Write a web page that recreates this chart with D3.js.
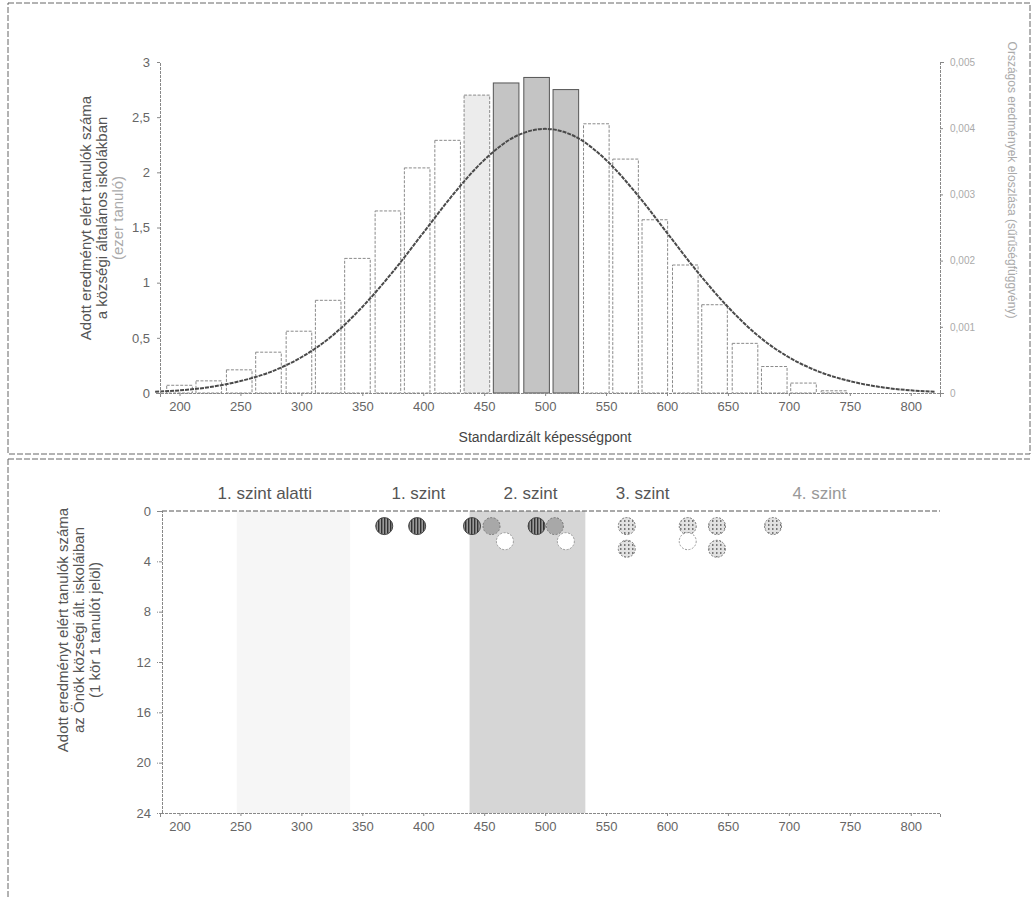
<!DOCTYPE html>
<html>
<head>
<meta charset="utf-8">
<script src="https://cdn.jsdelivr.net/npm/d3@7/dist/d3.min.js"></script>
<style>
  body { margin: 0; background: #fff; font-family: "Liberation Sans", Arial, sans-serif; }
</style>
</head>
<body>
<div id="chart"></div>
<script>
// histogram: bin centre (standardized score) and students in thousands
var binCentres = [200, 224, 249, 273, 298, 322, 346, 371, 395, 420, 444, 468, 493, 517, 542, 566, 590, 615, 639, 664, 688, 712, 737];
var binCounts  = [0.07, 0.11, 0.21, 0.37, 0.56, 0.84, 1.22, 1.65, 2.04, 2.29, 2.70, 2.81, 2.86, 2.75, 2.44, 2.12, 1.57, 1.16, 0.80, 0.45, 0.24, 0.09, 0.02];
var lightBins  = [444];
var greyBins   = [468, 493, 517];

// national distribution curve (right axis)
var curveScores  = [180, 200, 225, 250, 275, 300, 325, 350, 375, 400, 425, 450, 475, 500, 525, 550, 575, 600, 625, 650, 675, 700, 725, 750, 775, 800, 820];
var curveDensity = [0.00002, 0.00004, 0.00009, 0.00018, 0.00032, 0.00054, 0.00086, 0.0013, 0.00183, 0.00242, 0.00301, 0.00352, 0.00387, 0.00399, 0.00387, 0.00352, 0.00301, 0.00242, 0.00183, 0.0013, 0.00086, 0.00054, 0.00032, 0.00018, 0.00009, 0.00004, 0.00002];

var xTicks     = [200, 250, 300, 350, 400, 450, 500, 550, 600, 650, 700, 750, 800];
var leftTicks  = [0, 0.5, 1, 1.5, 2, 2.5, 3];
var rightTicks = [0, 0.001, 0.002, 0.003, 0.004, 0.005];
var countTicks = [0, 4, 8, 12, 16, 20, 24];

var levelNames = ["1. szint alatti", "1. szint", "2. szint", "3. szint", "4. szint"];
var levelScore = [270, 396, 488, 580, 725];

var schoolBand = [438, 533];
var faintBand  = [247, 340];

// one circle = one student of the school
var studentScore = [368, 395, 440, 456, 493, 508, 567, 567, 617, 641, 641, 687, 467, 517, 617];
var studentRow   = [1.2, 1.2, 1.2, 1.2, 1.2, 1.2, 1.2, 3.0, 1.2, 1.2, 3.0, 1.2, 2.4, 2.4, 2.4];
var studentStyle = ["dark", "dark", "dark", "grey", "dark", "grey", "dots", "dots", "dots", "dots", "dots", "dots", "open", "open", "open"];

var W = 1034, H = 899;
var svg = d3.select("#chart").append("svg")
    .attr("width", W).attr("height", H);

var defs = svg.append("defs");
var hatch = defs.append("pattern").attr("id", "vhatch")
    .attr("width", 3).attr("height", 3).attr("patternUnits", "userSpaceOnUse");
hatch.append("rect").attr("width", 3).attr("height", 3).attr("fill", "#9a9a9a");
hatch.append("rect").attr("width", 1.4).attr("height", 3).attr("fill", "#333");
var stip = defs.append("pattern").attr("id", "stip")
    .attr("width", 4).attr("height", 4).attr("patternUnits", "userSpaceOnUse");
stip.append("rect").attr("width", 4).attr("height", 4).attr("fill", "#e2e2e2");
stip.append("rect").attr("width", 1.5).attr("height", 2).attr("fill", "#777");

// panel frames (scanned look)
svg.append("rect").attr("x", 8).attr("y", 3).attr("width", 1022).attr("height", 451)
    .attr("fill", "none").attr("stroke", "#666").attr("stroke-dasharray", "6,2");
svg.append("line").attr("x1", 8).attr("x2", 1030).attr("y1", 459).attr("y2", 459)
    .attr("stroke", "#666").attr("stroke-dasharray", "6,2");
svg.append("line").attr("x1", 8).attr("x2", 8).attr("y1", 459).attr("y2", 899)
    .attr("stroke", "#666").attr("stroke-dasharray", "6,2");

// ---------- top chart ----------
var x = d3.scaleLinear().domain([184, 824]).range([160, 940]);
var y = d3.scaleLinear().domain([0, 3]).range([393, 62]);
var yR = d3.scaleLinear().domain([0, 0.005]).range([393, 62]);
var comma = function (v) { return v === 0 ? "0" : String(v).replace(".", ","); };

var topG = svg.append("g");

topG.selectAll("rect.bar")
  .data(binCentres)
  .enter().append("rect")
    .attr("class", "bar")
    .attr("x", function (d) { return x(d - 10.5); })
    .attr("width", function (d) { return x(d + 10.5) - x(d - 10.5); })
    .attr("y", function (d, i) { return y(binCounts[i]); })
    .attr("height", function (d, i) { return y(0) - y(binCounts[i]); })
    .attr("fill", function (d) {
      if (greyBins.indexOf(d) >= 0) return "#c4c4c4";
      if (lightBins.indexOf(d) >= 0) return "#ececec";
      return "#fff";
    })
    .attr("stroke", function (d) { return greyBins.indexOf(d) >= 0 ? "#555" : "#8a8a8a"; })
    .attr("stroke-dasharray", function (d) { return greyBins.indexOf(d) >= 0 ? null : "3,1.5"; });

var line = d3.line()
    .x(function (d, i) { return x(curveScores[i]); })
    .y(function (d) { return yR(d); })
    .curve(d3.curveMonotoneX);
topG.append("path")
    .datum(curveDensity)
    .attr("d", line)
    .attr("fill", "none")
    .attr("stroke", "#4a4a4a")
    .attr("stroke-width", 2)
    .attr("stroke-dasharray", "4,1");

var xAxisTop = topG.append("g")
    .attr("transform", "translate(0,393)")
    .call(d3.axisBottom(x).tickValues(xTicks).tickSize(4).tickPadding(5));
var yAxisL = topG.append("g")
    .attr("transform", "translate(160,0)")
    .call(d3.axisLeft(y).tickValues(leftTicks).tickFormat(comma).tickSize(4).tickPadding(6));
var yAxisR = topG.append("g")
    .attr("transform", "translate(940,0)")
    .call(d3.axisRight(yR).tickValues(rightTicks).tickFormat(comma).tickSize(4).tickPadding(6));

[xAxisTop, yAxisL, yAxisR].forEach(function (a) {
  a.selectAll("path, line").attr("stroke", "#888").attr("stroke-dasharray", "3,1");
  a.selectAll("text").attr("font-size", 13).attr("fill", "#666");
});
yAxisR.selectAll("text").attr("font-size", 10).attr("fill", "#aaa");

topG.append("text")
    .attr("x", 545).attr("y", 442)
    .attr("text-anchor", "middle")
    .attr("font-size", 14).attr("fill", "#444")
    .text("Standardizált képességpont");

var leftTitle = ["Adott eredményt elért tanulók száma", "a községi általános iskolákban", "(ezer tanuló)"];
topG.append("g").attr("transform", "translate(91,218) rotate(-90)")
  .selectAll("text").data(leftTitle).enter().append("text")
    .attr("y", function (d, i) { return i * 16; })
    .attr("text-anchor", "middle")
    .attr("font-size", 15).attr("fill", function (d, i) { return i == 2 ? "#aaa" : "#555"; })
    .text(function (d) { return d; });

topG.append("text")
    .attr("transform", "translate(1008,180) rotate(90)")
    .attr("text-anchor", "middle")
    .attr("font-size", 12).attr("fill", "#aaa")
    .text("Országos eredmények eloszlása (sűrűségfüggvény)");

// ---------- bottom chart ----------
var y2 = d3.scaleLinear().domain([0, 24]).range([511, 813]);
var bottom = svg.append("g");

bottom.append("rect")
    .attr("x", x(faintBand[0])).attr("width", x(faintBand[1]) - x(faintBand[0]))
    .attr("y", y2(0)).attr("height", y2(24) - y2(0))
    .attr("fill", "#f6f6f6");
bottom.append("rect")
    .attr("x", x(schoolBand[0])).attr("width", x(schoolBand[1]) - x(schoolBand[0]))
    .attr("y", y2(0)).attr("height", y2(24) - y2(0))
    .attr("fill", "#d6d6d6");

var xAxisBot = bottom.append("g")
    .attr("transform", "translate(0,813)")
    .call(d3.axisBottom(x).tickValues(xTicks).tickSize(4).tickPadding(5));
var yAxisBot = bottom.append("g")
    .attr("transform", "translate(162,0)")
    .call(d3.axisLeft(y2).tickValues(countTicks).tickSize(5).tickPadding(6));
[xAxisBot, yAxisBot].forEach(function (a) {
  a.selectAll("path, line").attr("stroke", "#888").attr("stroke-dasharray", "3,1");
  a.selectAll("text").attr("font-size", 13).attr("fill", "#666");
});
// dashed line along 0
bottom.append("line")
    .attr("x1", 162).attr("x2", 940).attr("y1", y2(0)).attr("y2", y2(0))
    .attr("stroke", "#555").attr("stroke-dasharray", "5,2");

bottom.selectAll("text.level")
  .data(levelNames)
  .enter().append("text")
    .attr("class", "level")
    .attr("x", function (d, i) { return x(levelScore[i]); })
    .attr("y", 499)
    .attr("text-anchor", "middle")
    .attr("font-size", 17)
    .attr("fill", function (d, i) { return i == 4 ? "#999" : "#555"; })
    .text(function (d) { return d; });

var fills = { dark: "url(#vhatch)", grey: "#a8a8a8", dots: "url(#stip)", open: "#fff" };
var strokes = { dark: "#444", grey: "#777", dots: "#777", open: "#999" };
bottom.selectAll("circle.student")
  .data(studentScore)
  .enter().append("circle")
    .attr("class", "student")
    .attr("cx", function (d) { return x(d); })
    .attr("cy", function (d, i) { return y2(studentRow[i]); })
    .attr("r", 8.5)
    .attr("fill", function (d, i) { return fills[studentStyle[i]]; })
    .attr("stroke", function (d, i) { return strokes[studentStyle[i]]; })
    .attr("stroke-dasharray", function (d, i) { return studentStyle[i] == "dark" ? null : "2,1.5"; });

var botTitle = ["Adott eredményt elért tanulók száma", "az Önök községi ált. iskoláiban", "(1 kör 1 tanulót jelöl)"];
bottom.append("g").attr("transform", "translate(68,630) rotate(-90)")
  .selectAll("text").data(botTitle).enter().append("text")
    .attr("y", function (d, i) { return i * 16; })
    .attr("text-anchor", "middle")
    .attr("font-size", 15).attr("fill", "#555")
    .text(function (d) { return d; });
</script>
</body>
</html>
